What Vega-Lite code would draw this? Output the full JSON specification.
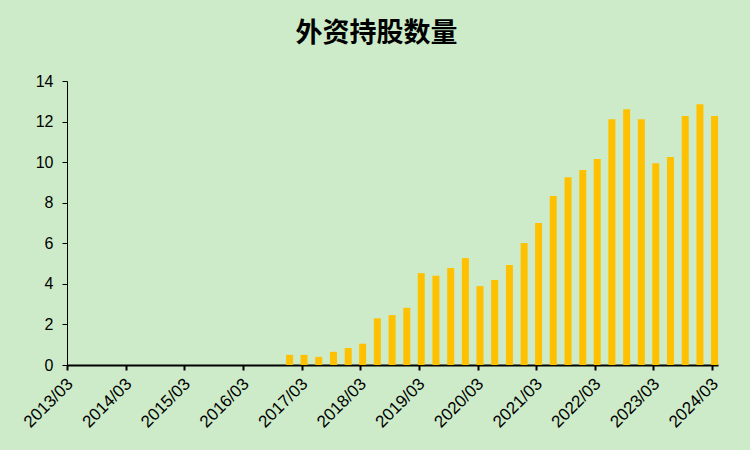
{
  "$schema": "https://vega.github.io/schema/vega-lite/v6.json",
  "width": 651,
  "height": 284,
  "autosize": "none",
  "padding": {"left": 67, "top": 81, "right": 32, "bottom": 85},
  "background": "#CDEBC9",
  "config": {"view": {"stroke": null}},
  "title": {
    "text": "外资持股数量",
    "font": "Noto Sans CJK SC",
    "fontSize": 27,
    "fontWeight": "bold",
    "color": "#000000",
    "dx": -16,
    "offset": 25
  },
  "data": {
    "values": [
      {"date": "2016-12", "value": 0.5},
      {"date": "2017-03", "value": 0.5},
      {"date": "2017-06", "value": 0.4},
      {"date": "2017-09", "value": 0.65},
      {"date": "2017-12", "value": 0.84},
      {"date": "2018-03", "value": 1.05},
      {"date": "2018-06", "value": 2.3},
      {"date": "2018-09", "value": 2.46},
      {"date": "2018-12", "value": 2.82},
      {"date": "2019-03", "value": 4.53},
      {"date": "2019-06", "value": 4.4},
      {"date": "2019-09", "value": 4.78},
      {"date": "2019-12", "value": 5.27},
      {"date": "2020-03", "value": 3.89},
      {"date": "2020-06", "value": 4.19},
      {"date": "2020-09", "value": 4.93},
      {"date": "2020-12", "value": 6.01},
      {"date": "2021-03", "value": 7.0},
      {"date": "2021-06", "value": 8.33},
      {"date": "2021-09", "value": 9.26},
      {"date": "2021-12", "value": 9.61},
      {"date": "2022-03", "value": 10.15},
      {"date": "2022-06", "value": 12.12},
      {"date": "2022-09", "value": 12.61},
      {"date": "2022-12", "value": 12.12},
      {"date": "2023-03", "value": 9.95},
      {"date": "2023-06", "value": 10.25},
      {"date": "2023-09", "value": 12.27},
      {"date": "2023-12", "value": 12.86},
      {"date": "2024-03", "value": 12.27}
    ]
  },
  "mark": {"type": "bar", "color": "#FFC000", "width": 7},
  "encoding": {
    "x": {
      "field": "date",
      "type": "temporal",
      "timeUnit": "utcyearmonth",
      "bandPosition": 0.5,
      "scale": {"domain": [{"year": 2013, "month": 3, "date": 1, "utc": true}, {"year": 2024, "month": 4, "date": 7, "utc": true}], "type": "utc"},
      "axis": {
        "title": null,
        "values": [
          {"year": 2013, "month": 3, "date": 1, "utc": true},
          {"year": 2014, "month": 3, "date": 1, "utc": true},
          {"year": 2015, "month": 3, "date": 1, "utc": true},
          {"year": 2016, "month": 3, "date": 1, "utc": true},
          {"year": 2017, "month": 3, "date": 1, "utc": true},
          {"year": 2018, "month": 3, "date": 1, "utc": true},
          {"year": 2019, "month": 3, "date": 1, "utc": true},
          {"year": 2020, "month": 3, "date": 1, "utc": true},
          {"year": 2021, "month": 3, "date": 1, "utc": true},
          {"year": 2022, "month": 3, "date": 1, "utc": true},
          {"year": 2023, "month": 3, "date": 1, "utc": true},
          {"year": 2024, "month": 3, "date": 1, "utc": true}
        ],
        "labelExpr": "utcFormat(datum.value, '%Y/%m')",
        "labelAngle": -45,
        "labelAlign": "right",
        "labelBaseline": "middle",
        "labelFont": "Liberation Sans",
        "labelFontSize": 17,
        "labelColor": "#000000",
        "labelPadding": 11,
        "labelOffset": 3,
        "labelOverlap": false,
        "domainColor": "#000000",
        "domainWidth": 2,
        "tickColor": "#000000",
        "tickWidth": 2,
        "tickSize": 5,
        "grid": false
      }
    },
    "y": {
      "field": "value",
      "type": "quantitative",
      "scale": {"domain": [0, 14]},
      "axis": {
        "title": null,
        "values": [0, 2, 4, 6, 8, 10, 12, 14],
        "labelFont": "Liberation Sans",
        "labelFontSize": 16,
        "labelColor": "#000000",
        "labelPadding": 9,
        "domainColor": "#000000",
        "domainWidth": 1,
        "tickColor": "#000000",
        "tickWidth": 1,
        "tickSize": 5,
        "grid": false
      }
    }
  }
}
